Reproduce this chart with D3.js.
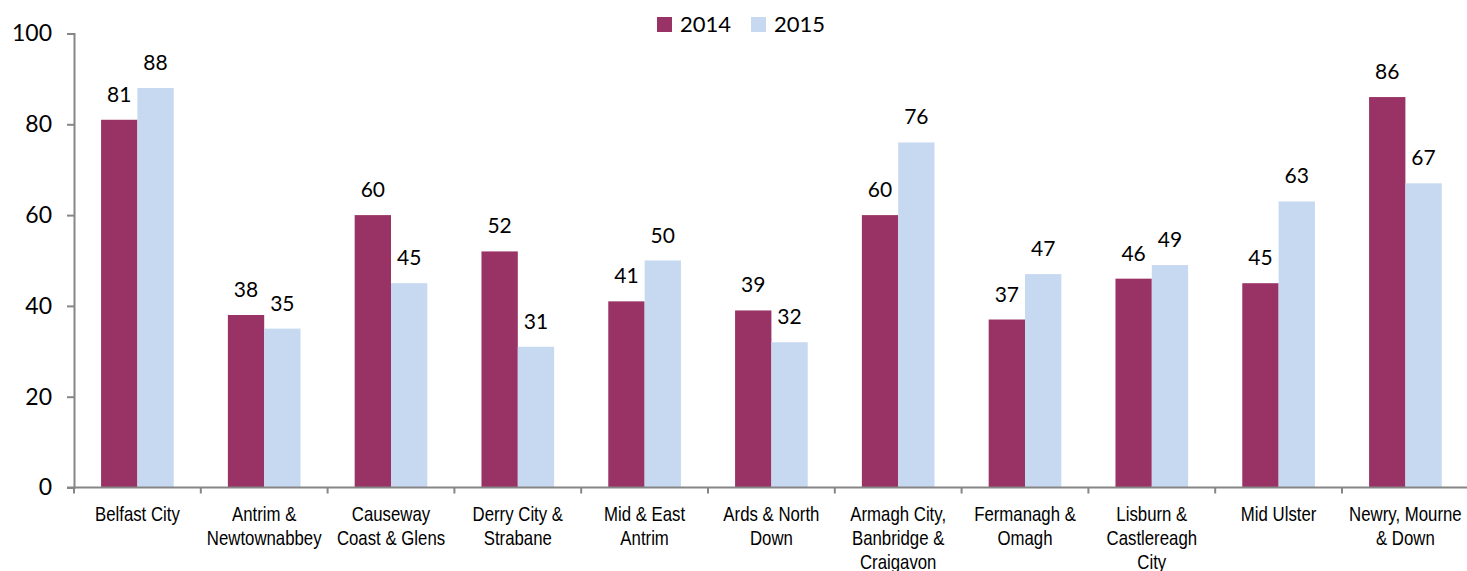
<!DOCTYPE html>
<html>
<head>
<meta charset="utf-8">
<script src="https://cdn.jsdelivr.net/npm/d3@7"></script>
<style>
  html, body { margin: 0; padding: 0; background: #fff; }
  svg { display: block; }
</style>
</head>
<body>
<svg id="chart"></svg>
<script>
const categories = [
  ["Belfast City"],
  ["Antrim &", "Newtownabbey"],
  ["Causeway", "Coast & Glens"],
  ["Derry City &", "Strabane"],
  ["Mid & East", "Antrim"],
  ["Ards & North", "Down"],
  ["Armagh City,", "Banbridge &", "Craigavon"],
  ["Fermanagh &", "Omagh"],
  ["Lisburn &", "Castlereagh", "City"],
  ["Mid Ulster"],
  ["Newry, Mourne", "& Down"]
];
const series = ["2014", "2015"];
const values2014 = [81, 38, 60, 52, 41, 39, 60, 37, 46, 45, 86];
const values2015 = [88, 35, 45, 31, 50, 32, 76, 47, 49, 63, 67];
const yTicks = [0, 20, 40, 60, 80, 100];

const width = 1467, height = 571;
const colors = { "2014": "#993366", "2015": "#c6d9f1" };
const numFont = "Lato, 'Open Sans', sans-serif";
const catFont = "'Liberation Sans', Arial, sans-serif";

const rows = categories.map((c, i) => ({ key: i, label: c, "2014": values2014[i], "2015": values2015[i] }));

const svg = d3.select("#chart")
    .attr("width", width)
    .attr("height", height);

const left = 74, step = 126.8;
const x0 = d3.scaleBand()
    .domain(rows.map(d => d.key))
    .range([left, left + step * rows.length])
    .paddingInner(0.427)
    .paddingOuter(0.2135);

const x1 = d3.scaleBand()
    .domain(series)
    .range([0, x0.bandwidth()]);

const y = d3.scaleLinear()
    .domain([0, 100])
    .range([487.5, 33.5]);

// bars
const group = svg.append("g")
  .selectAll("g")
  .data(rows)
  .join("g")
    .attr("transform", d => `translate(${x0(d.key)},0)`);

group.selectAll("rect")
  .data(d => series.map(s => ({ s, v: d[s] })))
  .join("rect")
    .attr("x", d => x1(d.s))
    .attr("y", d => y(d.v))
    .attr("width", x1.bandwidth())
    .attr("height", d => y(0) - y(d.v))
    .attr("fill", d => colors[d.s]);

group.selectAll("text.val")
  .data(d => series.map(s => ({ s, v: d[s] })))
  .join("text")
    .attr("class", "val")
    .attr("x", d => x1(d.s) + x1.bandwidth() / 2)
    .attr("y", d => y(d.v) - 18)
    .attr("text-anchor", "middle")
    .attr("font-family", numFont)
    .attr("font-size", 21)
    .attr("fill", "#000")
    .text(d => d.v);

// y axis
const yAxis = svg.append("g")
    .attr("transform", `translate(${left},0)`)
    .call(d3.axisLeft(y).tickValues(yTicks).tickSize(7).tickPadding(15));
yAxis.select(".domain").attr("stroke", "#868686").attr("stroke-width", 2);
yAxis.selectAll(".tick line").attr("stroke", "#868686").attr("stroke-width", 2);
yAxis.selectAll(".tick text")
    .attr("font-family", numFont)
    .attr("font-size", 23)
    .attr("fill", "#000");

// x axis baseline with ticks at band boundaries
const bounds = d3.range(rows.length + 1).map(i => left + i * x0.step());
svg.append("line")
    .attr("x1", left - 7).attr("x2", width)
    .attr("y1", y(0)).attr("y2", y(0))
    .attr("stroke", "#868686").attr("stroke-width", 2);
svg.append("g").selectAll("line")
  .data(bounds)
  .join("line")
    .attr("x1", d => d).attr("x2", d => d)
    .attr("y1", y(0)).attr("y2", y(0) + 6)
    .attr("stroke", "#868686").attr("stroke-width", 2);

// category labels (condensed like Arial Narrow)
const cat = svg.append("g").selectAll("text")
  .data(rows)
  .join("text")
    .attr("transform", d => `translate(${x0(d.key) + x0.bandwidth() / 2},521) scale(0.84,1)`)
    .attr("text-anchor", "middle")
    .attr("font-family", catFont)
    .attr("font-size", 20)
    .attr("fill", "#000");
cat.selectAll("tspan")
  .data(d => d.label)
  .join("tspan")
    .attr("x", 0)
    .attr("dy", (d, i) => i === 0 ? 0 : 24)
    .text(d => d);

// legend
const legend = svg.append("g").selectAll("g")
  .data(series)
  .join("g")
    .attr("transform", (d, i) => `translate(${657 + i * 94},17)`);
legend.append("rect")
    .attr("width", 15).attr("height", 15)
    .attr("fill", d => colors[d]);
legend.append("text")
    .attr("x", 23).attr("y", 15)
    .attr("font-family", numFont)
    .attr("font-size", 22)
    .attr("fill", "#000")
    .text(d => d);
</script>
</body>
</html>
